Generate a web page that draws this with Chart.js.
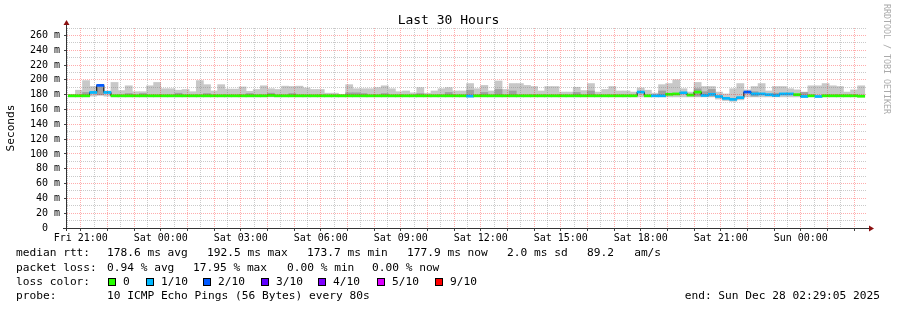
<!DOCTYPE html>
<html>
<head>
<meta charset="utf-8">
<title>Last 30 Hours</title>
<script src="https://cdn.jsdelivr.net/npm/chart.js@4.4.1/dist/chart.umd.min.js"></script>
<style>
  body { margin: 0; background: #fff; }
  #wrap { position: relative; width: 897px; height: 310px; overflow: hidden;
          font-family: "DejaVu Sans Mono", monospace; color: #000; }
  #chart { position: absolute; left: 0; top: 0; }
  .txt { position: absolute; white-space: pre; font-size: 11.2px; line-height: 14px; }
  .sq { position: absolute; top: 278px; width: 6px; height: 6px; border: 1px solid #000; }
  #title { position: absolute; left: 0; top: 12px; width: 897px; text-align: center;
           font-size: 13px; line-height: 16px; }
  #brand { position: absolute; left: 882px; top: 4px; writing-mode: vertical-rl;
           font-size: 8.3px; line-height: 10px; color: #aaa; white-space: pre; }
</style>
</head>
<body>
<div id="wrap">
  <canvas id="chart" width="897" height="310"></canvas>
  <div id="title">Last 30 Hours</div>
  <div id="brand">RRDTOOL / TOBI OETIKER</div>

  <div class="txt" style="left:16px;top:246px">median rtt:</div>
  <div class="txt" style="left:107px;top:246px">178.6 ms avg</div>
  <div class="txt" style="left:207px;top:246px">192.5 ms max</div>
  <div class="txt" style="left:307px;top:246px">173.7 ms min</div>
  <div class="txt" style="left:407px;top:246px">177.9 ms now</div>
  <div class="txt" style="left:507px;top:246px">2.0 ms sd</div>
  <div class="txt" style="left:587px;top:246px">89.2   am/s</div>

  <div class="txt" style="left:16px;top:261px">packet loss:</div>
  <div class="txt" style="left:107px;top:261px">0.94 % avg</div>
  <div class="txt" style="left:193px;top:261px">17.95 % max</div>
  <div class="txt" style="left:287px;top:261px">0.00 % min</div>
  <div class="txt" style="left:372px;top:261px">0.00 % now</div>

  <div class="txt" style="left:16px;top:275px">loss color:</div>
  <div id="lossLegend"></div>

  <div class="txt" style="left:16px;top:289px">probe:</div>
  <div class="txt" style="left:107px;top:289px">10 ICMP Echo Pings (56 Bytes) every 80s</div>
  <div class="txt" style="right:17px;top:289px">end: Sun Dec 28 02:29:05 2025</div>
</div>

<script>
// time is in minutes after Fri 00:00, rrd step is 16 min (12 x 80s)
const viewStart = 20 * 60 + 29 + 5 / 60;   // Fri 20:29:05
const viewEnd = viewStart + 30 * 60;
const firstStep = 20 * 60 + 40;            // middle of the 20:32-20:48 step
const stepLen = 16;

const tickTimes = [1260, 1440, 1620, 1800, 1980, 2160, 2340, 2520, 2700, 2880];
const tickLabels = ['Fri 21:00', 'Sat 00:00', 'Sat 03:00', 'Sat 06:00', 'Sat 09:00',
                    'Sat 12:00', 'Sat 15:00', 'Sat 18:00', 'Sat 21:00', 'Sun 00:00'];

// median rtt per step (ms)
const median = [
  178.5,178.5,178.5,183,192.5,183,178.5,178.5,178.5,178.5,
  178.5,178.5,178.5,178.5,178.5,178.5,178.5,178.5,178.5,178.5,
  178.5,178.5,178.5,178.5,178.5,178.5,178.5,178.5,179,178.5,
  178.5,178.5,178.5,178.5,178.5,178.5,178.5,178.5,178.5,178.5,
  178.5,178.5,178.5,178.5,178.5,178.5,178.5,178.5,178.5,178.5,
  178.5,178.5,178.5,178.5,178.5,178.5,178,178.5,178.5,178.5,
  178.5,178.5,178.5,178.5,178.5,178.5,178.5,178.5,178.5,178.5,
  178.5,178.5,178.5,178.5,178.5,178.5,178.5,178.5,178.5,178.5,
  183.5,178.5,178.5,178.5,180.5,181,182.5,179.5,183.5,179,
  180.5,177.5,175,173.7,176,183.5,181,181,180,179,
  181,181,180,177.5,178.5,177.5,178.5,178.5,178.5,178.5,
  178.5,177.9
];

// lost pings out of 10 per step
const loss = [
  0,0,0,1,2,1,0,0,0,0,
  0,0,0,0,0,0,0,0,0,0,
  0,0,0,0,0,0,0,0,0,0,
  0,0,0,0,0,0,0,0,0,0,
  0,0,0,0,0,0,0,0,0,0,
  0,0,0,0,0,0,1,0,0,0,
  0,0,0,0,0,0,0,0,0,0,
  0,0,0,0,0,0,0,0,0,0,
  1,0,1,1,0,0,1,0,0,1,
  1,1,1,1,1,2,1,1,1,1,
  1,1,0,1,0,1,0,0,0,0,
  0,0
];

// smoke: fastest and slowest ping per step (ms)
const smokeMin = [
  177,177,177,178,179,178,177,177,177,177,
  177,177,177,177,177,177,177,177,177,177,
  177,177,177,177,177,177,177,177,177,177,
  177,177,177,177,177,177,177,177,177,177,
  177,177,177,177,177,177,177,177,177,177,
  177,177,177,177,177,177,177,177,177,177,
  177,177,177,177,177,177,177,177,177,177,
  177,177,177,177,177,177,177,177,177,177,
  177,177,177,177,177,177,177,177,177,177,
  177,174,172,171,173,177,177,177,177,177,
  177,177,177,177,177,177,177,177,177,177,
  177,177
];
const smokeMax = [
  180.5,186,199,191,193.5,185,196.5,185.5,192,184,
  184,192,196.5,188,188,186,187,184,199,193.5,
  185,193.5,187.5,187.5,190.5,184.5,187,192,188,187,
  191.5,191,191.5,189,187,187,182,182,180.5,193.5,
  188,188,188,189.5,192,188,184,185,182.5,189.5,
  182,185,188,189.5,185,185,195,188,192.5,185,
  198.5,187,195,195,192.5,191,185,191,191,183.5,
  183.5,190,185.5,195,183.5,187,191,185,185,183.5,
  189,186,182,193.5,195,200,188,183.5,196.5,191,
  191,183.5,181,188,195,186.5,191,195,185,191,
  191,188,186.5,183.5,192,192,195,192,191,183.5,
  186.5,192
];
// darker inner smoke band top (ms), null where not visible
const smokeInner = [
  null,null,183,null,190,null,null,null,181.5,null,
  181.5,null,null,null,null,182,null,null,null,181.5,
  null,null,null,null,null,181.5,null,null,182,null,
  null,181.5,null,null,null,null,null,null,null,182.5,
  182.5,181.5,null,null,181.5,null,null,null,null,181.5,
  null,null,null,183,null,null,186,null,183,null,
  187,null,185,null,null,null,null,null,null,null,
  null,183,null,185,null,null,null,null,null,null,
  null,null,null,185,null,null,null,null,188,184,
  187,null,null,null,null,null,184,null,null,182,
  null,null,null,183,null,null,null,null,null,null,
  null,null
];

const lossColors = {0:'#26ff00', 1:'#00b8ff', 2:'#0059ff', 3:'#5e00ff', 4:'#7e00ff', 5:'#dd00ff', 9:'#ff0000'};
const lossLegend = [[0,'0'],[1,'1/10'],[2,'2/10'],[3,'3/10'],[4,'4/10'],[5,'5/10'],[9,'9/10']];
const lossBoxX = [108, 146, 203, 261, 318, 377, 435];

// loss color legend
var ll = "";
lossLegend.forEach((e, i) => {
    ll += '<div class="sq" style="left:' + lossBoxX[i] + 'px;background:' + lossColors[e[0]] + '"></div>';
    ll += '<div class="txt" style="left:' + (lossBoxX[i] + 15) + 'px;top:275px">' + e[1] + '</div>';
});
document.getElementById('lossLegend').innerHTML = ll;

const times = median.map((m, i) => firstStep + i * stepLen);
const xGrid = [];
for (let t = 1230; t <= viewEnd; t += 30) xGrid.push(t);
const yGrid = [];
for (let v = 0; v <= 270; v += 10) yGrid.push(v);

const majorGrid = 'rgba(255,0,0,0.32)';
const minorGrid = 'rgba(128,128,128,0.42)';
const mono = 'DejaVu Sans Mono';

// axis lines with the little rrdtool arrows
const axisArrows = {
    id: 'axisArrows',
    afterDraw(chart) {
        const ctx = chart.ctx, a = chart.chartArea;
        ctx.save();
        ctx.strokeStyle = '#333';
        ctx.lineWidth = 1;
        ctx.beginPath();
        ctx.moveTo(a.left - 4, a.bottom + 0.5);
        ctx.lineTo(a.right + 3, a.bottom + 0.5);
        ctx.moveTo(a.left - 0.5, a.bottom + 3);
        ctx.lineTo(a.left - 0.5, a.top - 4);
        ctx.stroke();
        ctx.fillStyle = '#8b1010';
        ctx.beginPath();
        ctx.moveTo(a.right + 2, a.bottom - 2.5);
        ctx.lineTo(a.right + 7, a.bottom + 0.5);
        ctx.lineTo(a.right + 2, a.bottom + 3.5);
        ctx.fill();
        ctx.beginPath();
        ctx.moveTo(a.left - 3.5, a.top - 3);
        ctx.lineTo(a.left - 0.5, a.top - 8);
        ctx.lineTo(a.left + 2.5, a.top - 3);
        ctx.fill();
        ctx.restore();
    }
};

new Chart(document.getElementById('chart'), {
    type: 'bar',
    data: {
        datasets: [{
            label: 'median rtt',
            data: times.map((t, i) => ({x: t, y: [median[i] - 1.4, median[i] + 1.4]})),
            backgroundColor: loss.map(l => lossColors[l]),
            order: 1
        }, {
            type: 'line',
            label: 'median steps',
            data: times.map((t, i) => ({x: t, y: median[i]})),
            borderColor: '#000',
            borderWidth: 1,
            stepped: 'middle',
            pointRadius: 0,
            order: 2
        }, {
            label: 'inner smoke',
            data: times.map((t, i) => ({x: t, y: smokeInner[i] == null ? null : [smokeMin[i] + 1, smokeInner[i]]})),
            backgroundColor: '#a0a0a0',
            order: 3
        }, {
            label: 'smoke',
            data: times.map((t, i) => ({x: t, y: [smokeMin[i], smokeMax[i]]})),
            backgroundColor: '#c8c8c8',
            order: 4
        }]
    },
    options: {
        responsive: false,
        animation: false,
        events: [],
        layout: { padding: { left: 0, right: 30, top: 28, bottom: 0 } },
        plugins: { legend: { display: false }, tooltip: { enabled: false } },
        datasets: { bar: { barPercentage: 1, categoryPercentage: 1, grouped: false, borderWidth: 0 } },
        scales: {
            x: {
                type: 'linear', min: viewStart, max: viewEnd, offset: false,
                afterBuildTicks: s => { s.ticks = xGrid.map(v => ({value: v})); },
                afterFit: s => { s.height = 82; },
                grid: {
                    offset: false, z: 1, tickLength: 3,
                    color: c => (c.tick && c.tick.value % 60 === 0) ? majorGrid : minorGrid,
                    tickColor: c => (c.tick && c.tick.value % 60 === 0) ? '#444' : 'rgba(0,0,0,0)'
                },
                border: { display: false, dash: [1, 1] },
                ticks: {
                    autoSkip: false, maxRotation: 0, padding: 1, color: '#000',
                    font: { family: mono, size: 10 },
                    callback: v => { const i = tickTimes.indexOf(v); return i < 0 ? '' : tickLabels[i]; }
                }
            },
            y: {
                min: 0, max: 270,
                afterBuildTicks: s => { s.ticks = yGrid.map(v => ({value: v})); },
                afterFit: s => { s.width = 67; },
                grid: {
                    z: 1, tickLength: 3,
                    color: c => (c.tick && c.tick.value % 20 === 0) ? majorGrid : minorGrid,
                    tickColor: c => (c.tick && c.tick.value % 20 === 0) ? '#444' : 'rgba(0,0,0,0)'
                },
                border: { display: false, dash: [1, 1] },
                ticks: {
                    autoSkip: false, padding: 4, color: '#000',
                    font: { family: mono, size: 10 },
                    callback: v => v === 0 ? '0  ' : (v % 20 === 0 ? v + ' m' : '')
                },
                title: {
                    display: true, text: 'Seconds', color: '#000',
                    font: { family: mono, size: 11.2 }, padding: { top: 4, bottom: 0 }
                }
            }
        }
    },
    plugins: [axisArrows]
});
</script>
</body>
</html>
